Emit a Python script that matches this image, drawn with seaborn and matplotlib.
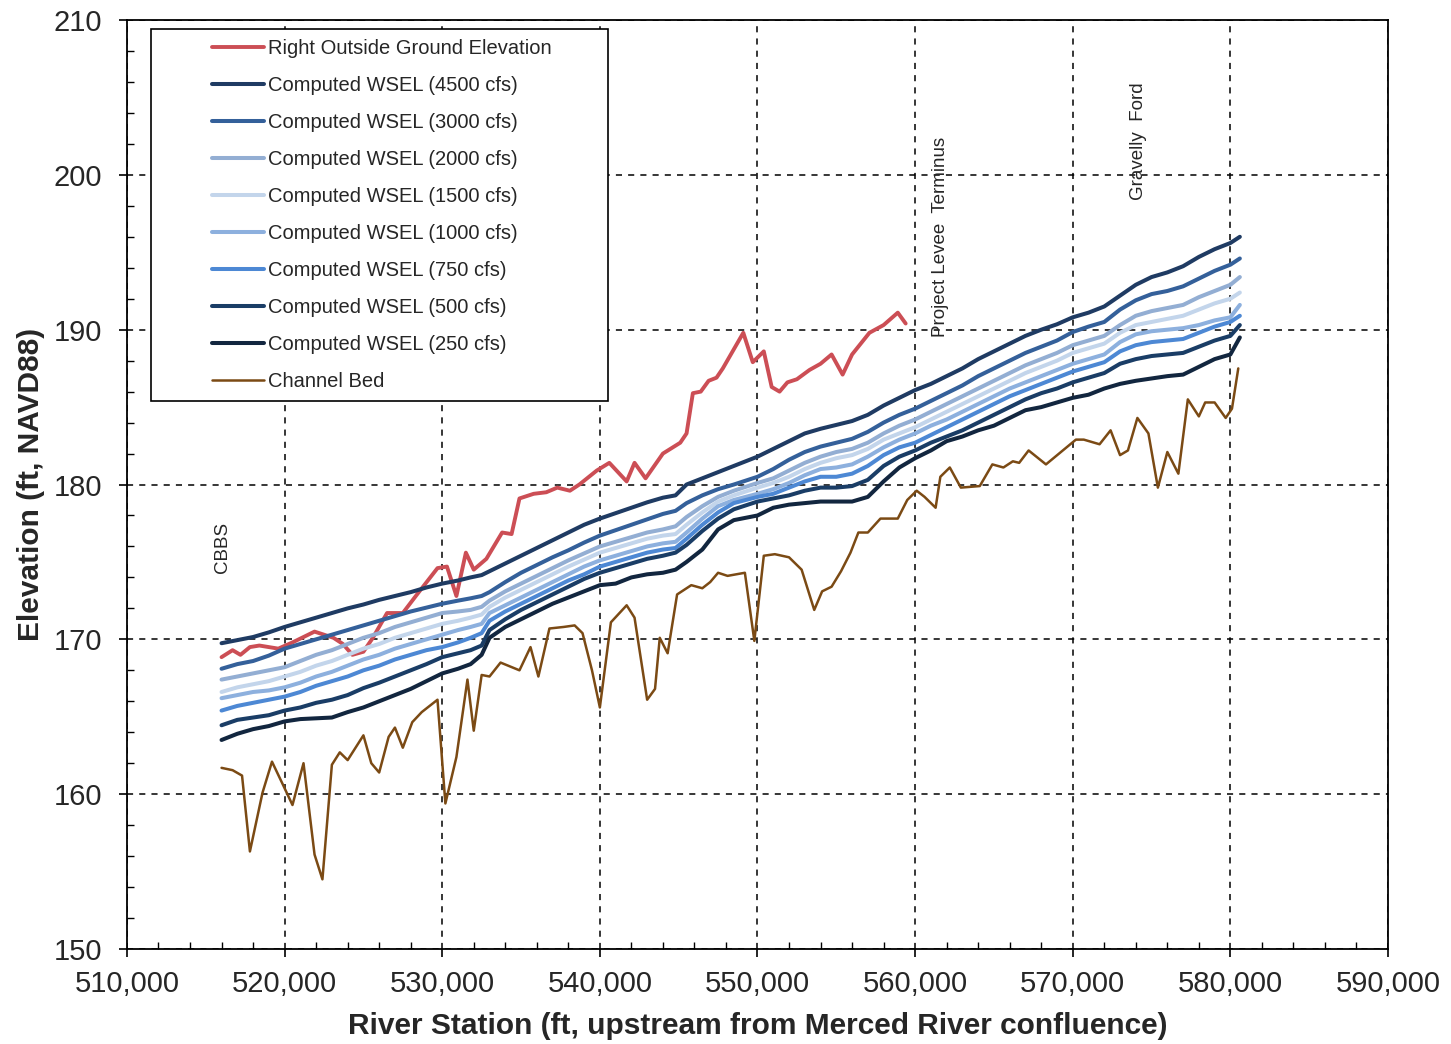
import numpy as np
import pandas as pd
import matplotlib
matplotlib.use("Agg")
import matplotlib.pyplot as plt
import seaborn as sns
from matplotlib.ticker import MultipleLocator, FuncFormatter
from matplotlib.legend_handler import HandlerLine2D

# Right outside ground elevation (levee side)
red_station = [516000, 516700, 517200, 517800, 518400, 519600, 520500, 521900, 523100, 523700,
               524300, 525000, 525600, 526500, 527500, 528400, 529700, 530300, 530900, 531500,
               532000, 532800, 533800, 534400, 534900, 535800, 536600, 537300, 538100, 538700,
               539800, 540600, 541700, 542200, 542900, 544000, 545100, 545500, 545900, 546400,
               546900, 547400, 547800, 549100, 549700, 550400, 550900, 551400, 551900, 552500,
               553300, 554000, 554700, 555400, 556000, 557100, 558000, 558900, 559400]
red_elev = [168.85, 169.3, 169.0, 169.5, 169.6, 169.4, 169.8, 170.5, 170.1, 169.7,
            169.0, 169.2, 170.1, 171.7, 171.7, 172.9, 174.6, 174.7, 172.8, 175.6,
            174.5, 175.2, 176.9, 176.8, 179.1, 179.4, 179.5, 179.8, 179.6, 180.0,
            180.9, 181.4, 180.2, 181.4, 180.4, 182.0, 182.7, 183.3, 185.9, 186.0,
            186.7, 186.9, 187.5, 189.8, 187.9, 188.6, 186.3, 186.0, 186.6, 186.8,
            187.4, 187.8, 188.4, 187.1, 188.4, 189.8, 190.3, 191.1, 190.4]

# Computed water surface elevations
ws_station = [516000, 517000, 518000, 519000, 520000, 521000, 522000, 523000, 524000, 525000,
              526000, 527000, 528000, 529000, 530000, 531000, 531800, 532500, 533000, 534000,
              535000, 536000, 537000, 538000, 539000, 540000, 541000, 542000, 543000, 544000,
              544800, 545500, 546500, 547500, 548500, 550000, 551000, 552000, 553000, 554000,
              555000, 556000, 557000, 558000, 559000, 560000, 561000, 562000, 563000, 564000,
              565000, 566000, 567000, 568000, 569000, 570000, 571000, 572000, 573000, 574000,
              575000, 576000, 577000, 578000, 579000, 580000, 580600]
ws_4500 = [169.75, 169.95, 170.15, 170.45, 170.8, 171.1, 171.4, 171.7, 172.0, 172.25,
           172.55, 172.8, 173.05, 173.35, 173.6, 173.8, 174.0, 174.15, 174.4, 174.9,
           175.4, 175.9, 176.4, 176.9, 177.4, 177.8, 178.15, 178.5, 178.85, 179.15,
           179.3, 180.0, 180.4, 180.8, 181.2, 181.8, 182.3, 182.8, 183.3, 183.6,
           183.85, 184.1, 184.5, 185.1, 185.6, 186.1, 186.5, 187.0, 187.5, 188.1,
           188.6, 189.1, 189.6, 190.0, 190.35, 190.8, 191.1, 191.5, 192.2, 192.9,
           193.4, 193.7, 194.1, 194.7, 195.2, 195.6, 196.0]
ws_3000 = [168.1, 168.4, 168.6, 168.95, 169.4, 169.7, 170.0, 170.3, 170.6, 170.9,
           171.2, 171.5, 171.8, 172.05, 172.3, 172.5, 172.65, 172.8, 173.05, 173.7,
           174.3, 174.8, 175.3, 175.75, 176.25, 176.7, 177.05, 177.4, 177.75, 178.1,
           178.3, 178.8, 179.3, 179.7, 180.0, 180.5, 181.0, 181.6, 182.1, 182.45,
           182.7, 182.95, 183.4, 184.0, 184.5, 184.9, 185.4, 185.9, 186.4, 187.0,
           187.5, 188.0, 188.5, 188.9, 189.3, 189.85, 190.2, 190.5, 191.3, 191.9,
           192.3, 192.5, 192.8, 193.3, 193.8, 194.2, 194.6]
ws_2000 = [167.4, 167.6, 167.8, 168.0, 168.2, 168.6, 169.0, 169.3, 169.7, 170.1,
           170.4, 170.8, 171.1, 171.4, 171.7, 171.8, 171.9, 172.1, 172.5, 173.1,
           173.6, 174.1, 174.6, 175.1, 175.55, 176.0, 176.3, 176.6, 176.9, 177.1,
           177.3, 177.9, 178.6, 179.2, 179.6, 180.1, 180.4, 180.9, 181.4, 181.8,
           182.1, 182.3, 182.7, 183.3, 183.8, 184.2, 184.7, 185.2, 185.7, 186.2,
           186.7, 187.2, 187.7, 188.1, 188.5, 189.0, 189.3, 189.6, 190.3, 190.9,
           191.2, 191.4, 191.6, 192.1, 192.5, 192.9, 193.4]
ws_1500 = [166.6, 166.9, 167.1, 167.3, 167.6, 167.9, 168.3, 168.6, 169.0, 169.4,
           169.7, 170.1, 170.4, 170.7, 171.0, 171.2, 171.4, 171.6, 172.1, 172.7,
           173.2, 173.7, 174.2, 174.7, 175.15, 175.6, 175.9, 176.2, 176.5, 176.7,
           176.8, 177.4, 178.2, 178.9, 179.3, 179.8, 180.1, 180.5, 181.0, 181.4,
           181.7, 181.9, 182.3, 182.9, 183.3, 183.7, 184.2, 184.7, 185.2, 185.7,
           186.2, 186.7, 187.2, 187.6, 188.0, 188.5, 188.8, 189.1, 189.8, 190.3,
           190.5, 190.7, 190.9, 191.3, 191.7, 192.0, 192.4]
ws_1000 = [166.2, 166.4, 166.6, 166.7, 166.9, 167.2, 167.6, 167.9, 168.3, 168.7,
           169.0, 169.4, 169.7, 170.0, 170.3, 170.6, 170.8, 171.0, 171.7, 172.2,
           172.7, 173.2, 173.7, 174.2, 174.7, 175.1, 175.4, 175.7, 176.0, 176.2,
           176.3, 176.9, 177.8, 178.6, 179.0, 179.4, 179.7, 180.1, 180.6, 181.0,
           181.1, 181.3, 181.8, 182.4, 182.9, 183.3, 183.8, 184.2, 184.7, 185.2,
           185.7, 186.2, 186.6, 187.0, 187.4, 187.8, 188.1, 188.4, 189.2, 189.7,
           189.9, 190.0, 190.1, 190.3, 190.6, 190.8, 191.6]
ws_750 = [165.4, 165.7, 165.9, 166.1, 166.3, 166.6, 167.0, 167.3, 167.6, 168.0,
          168.3, 168.7, 169.0, 169.3, 169.5, 169.8, 170.1, 170.4, 171.2, 171.8,
          172.3, 172.8, 173.3, 173.8, 174.2, 174.7, 175.0, 175.3, 175.6, 175.8,
          175.9, 176.5, 177.4, 178.2, 178.8, 179.2, 179.4, 179.8, 180.2, 180.5,
          180.5, 180.7, 181.2, 181.9, 182.4, 182.7, 183.2, 183.7, 184.2, 184.7,
          185.2, 185.7, 186.1, 186.5, 186.9, 187.3, 187.6, 187.9, 188.6, 189.0,
          189.2, 189.3, 189.4, 189.8, 190.2, 190.5, 190.9]
ws_500 = [164.45, 164.8, 164.95, 165.1, 165.4, 165.6, 165.9, 166.1, 166.4, 166.85,
          167.2, 167.6, 168.0, 168.4, 168.85, 169.1, 169.3, 169.6, 170.6, 171.3,
          171.9, 172.4, 172.9, 173.4, 173.9, 174.3, 174.6, 174.9, 175.2, 175.4,
          175.6, 176.1, 177.0, 177.8, 178.4, 178.9, 179.1, 179.3, 179.6, 179.8,
          179.8, 179.9, 180.3, 181.2, 181.8, 182.2, 182.7, 183.1, 183.5, 184.0,
          184.5, 185.0, 185.5, 185.9, 186.2, 186.6, 186.9, 187.2, 187.8, 188.1,
          188.3, 188.4, 188.5, 188.9, 189.3, 189.6, 190.3]
ws_250 = [163.5, 163.9, 164.2, 164.4, 164.7, 164.85, 164.9, 164.95, 165.3, 165.6,
          166.0, 166.4, 166.8, 167.3, 167.8, 168.1, 168.4, 169.0, 170.1, 170.8,
          171.3, 171.8, 172.3, 172.7, 173.1, 173.5, 173.6, 174.0, 174.2, 174.3,
          174.5, 175.0, 175.8, 177.1, 177.7, 178.0, 178.5, 178.7, 178.8, 178.9,
          178.9, 178.9, 179.2, 180.2, 181.1, 181.7, 182.2, 182.8, 183.1, 183.5,
          183.8, 184.3, 184.8, 185.0, 185.3, 185.6, 185.8, 186.2, 186.5, 186.7,
          186.85, 187.0, 187.1, 187.6, 188.1, 188.4, 189.5]

# Channel bed (thalweg)
bed_station = [516000, 516700, 517300, 517800, 518600, 519200, 519900, 520500, 521200, 521900,
               522400, 523000, 523500, 524000, 525000, 525500, 526000, 526600, 527000, 527500,
               528100, 528700, 529700, 530200, 530900, 531600, 532000, 532500, 533000, 533700,
               534900, 535600, 536100, 536800, 537700, 538400, 538900, 539500, 540000, 540700,
               541700, 542200, 543000, 543500, 543800, 544300, 544900, 545800, 546500, 547000,
               547500, 548100, 549200, 549800, 550400, 551100, 552000, 552800, 553600, 554100,
               554700, 555300, 555900, 556400, 557000, 557800, 558900, 559500, 560100, 560600,
               561300, 561600, 562200, 562900, 564100, 564900, 565600, 566200, 566600, 567200,
               568300, 570200, 570700, 571700, 572400, 573000, 573500, 574100, 574800, 575400,
               576000, 576700, 577300, 578000, 578400, 579000, 579700, 580100, 580500]
bed_elev = [161.7, 161.55, 161.2, 156.3, 160.1, 162.1, 160.6, 159.3, 162.0, 156.1,
            154.5, 161.9, 162.7, 162.2, 163.8, 162.0, 161.4, 163.7, 164.3, 163.0,
            164.65, 165.3, 166.1, 159.4, 162.4, 167.4, 164.1, 167.7, 167.6, 168.5,
            168.0, 169.5, 167.6, 170.7, 170.8, 170.9, 170.4, 168.0, 165.6, 171.1,
            172.2, 171.4, 166.1, 166.8, 170.1, 169.1, 172.9, 173.5, 173.3, 173.7,
            174.3, 174.1, 174.3, 169.9, 175.4, 175.5, 175.3, 174.5, 171.9, 173.1,
            173.4, 174.4, 175.6, 176.9, 176.9, 177.8, 177.8, 179.0, 179.6, 179.2,
            178.5, 180.5, 181.1, 179.8, 179.9, 181.3, 181.1, 181.5, 181.4, 182.2,
            181.3, 182.9, 182.9, 182.6, 183.5, 181.9, 182.2, 184.3, 183.3, 179.8,
            182.1, 180.7, 185.5, 184.4, 185.3, 185.3, 184.3, 184.9, 187.5]

series = [
    ("Right Outside Ground Elevation", red_station, red_elev, "#CC4E55", 2.8),
    ("Computed WSEL (4500 cfs)", ws_station, ws_4500, "#1F3B63", 2.9),
    ("Computed WSEL (3000 cfs)", ws_station, ws_3000, "#34609A", 2.9),
    ("Computed WSEL (2000 cfs)", ws_station, ws_2000, "#93AED3", 2.9),
    ("Computed WSEL (1500 cfs)", ws_station, ws_1500, "#C3D5EB", 2.9),
    ("Computed WSEL (1000 cfs)", ws_station, ws_1000, "#8DB0DE", 2.9),
    ("Computed WSEL (750 cfs)", ws_station, ws_750, "#4D88D4", 2.9),
    ("Computed WSEL (500 cfs)", ws_station, ws_500, "#1A3D66", 2.9),
    ("Computed WSEL (250 cfs)", ws_station, ws_250, "#12263F", 2.9),
    ("Channel Bed", bed_station, bed_elev, "#7B4A14", 1.8),
]


class InsetLine(HandlerLine2D):
    # draw the legend line only in the right half of the handle box
    def get_xdata(self, legend, xdescent, ydescent, width, height, fontsize):
        xdata = np.array([-xdescent + 0.5 * width, -xdescent + width])
        return xdata, xdata


sns.set_theme(style="white")
plt.rcParams["font.family"] = ["Liberation Sans", "DejaVu Sans"]

fig, ax = plt.subplots(figsize=(14.51, 10.44), dpi=100)
fig.subplots_adjust(left=0.0875, right=0.9566, bottom=0.091, top=0.9808)

for name, xs, ys, color, lw in series:
    df = pd.DataFrame({"station": xs, "elev": ys})
    sns.lineplot(data=df, x="station", y="elev", ax=ax, color=color,
                 linewidth=lw, label=name, estimator=None, sort=False)

ax.set_xlim(510000, 590000)
ax.set_ylim(150, 210)
ax.xaxis.set_major_locator(MultipleLocator(10000))
ax.xaxis.set_minor_locator(MultipleLocator(2000))
ax.yaxis.set_major_locator(MultipleLocator(10))
ax.yaxis.set_minor_locator(MultipleLocator(2))
ax.xaxis.set_major_formatter(FuncFormatter(lambda v, p: f"{v:,.0f}"))

ax.grid(True, which="major", color="black", linestyle=(0, (4, 4)), linewidth=1.1)
ax.tick_params(which="major", direction="out", length=6, width=1.2, color="black",
               labelsize=21, bottom=True, left=True)
ax.tick_params(axis="x", which="major", pad=9)
ax.tick_params(axis="y", which="major", pad=12)
ax.tick_params(which="minor", direction="in", length=5, width=1.0, color="black",
               bottom=True, left=True)
for s in ax.spines.values():
    s.set_color("black")
    s.set_linewidth(1.3)

ax.set_xlabel("River Station (ft, upstream from Merced River confluence)",
              fontsize=21.5, fontweight="bold", labelpad=10)
ax.set_ylabel("Elevation (ft, NAVD88)", fontsize=21.5, fontweight="bold", labelpad=6)

# Location labels
ax.text(516030, 174.3, "CBBS", rotation=90, ha="center", va="bottom", fontsize=13.5)
ax.text(561600, 189.5, "Project Levee  Terminus", rotation=90, ha="center", va="bottom", fontsize=13.5)
ax.text(574150, 198.4, "Gravelly  Ford", rotation=90, ha="center", va="bottom", fontsize=13.5)

handles, labels = ax.get_legend_handles_labels()
leg = ax.legend(handles, labels, loc="upper left", mode="expand",
                bbox_to_anchor=(0.019, 0.59, 0.3624, 0.40), fontsize=14.5,
                frameon=True, fancybox=False, edgecolor="black", framealpha=1,
                handlelength=5.1, handletextpad=0.2, labelspacing=0.89,
                borderpad=0.5, borderaxespad=0,
                handler_map={h: InsetLine() for h in handles})
leg.get_frame().set_linewidth(1.2)
leg.set_zorder(5)

fig.savefig("out.png", dpi=100)
